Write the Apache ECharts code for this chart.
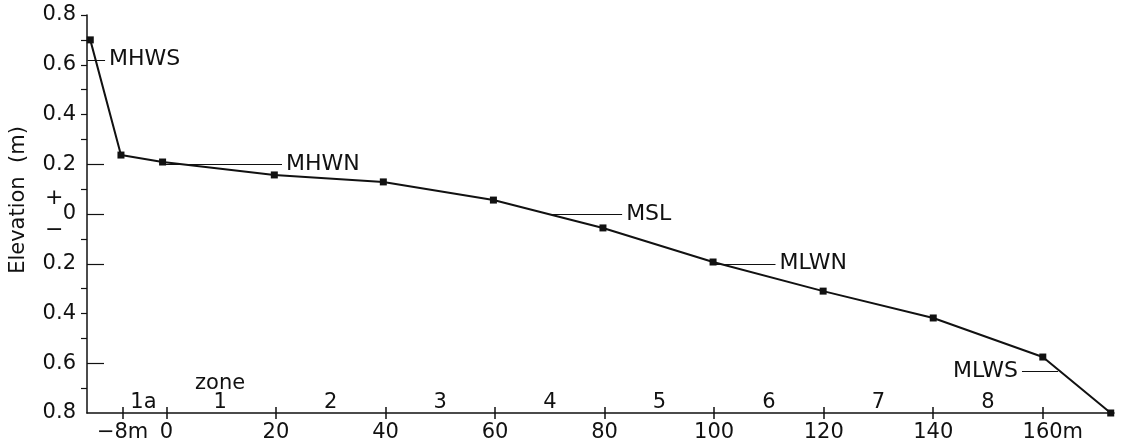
<!DOCTYPE html>
<html>
<head>
<meta charset="utf-8">
<script src="https://cdn.jsdelivr.net/npm/echarts@6/dist/echarts.min.js"></script>
<style>
  html, body { margin: 0; padding: 0; background: #fff; }
  #chart { width: 1126px; height: 448px; }
</style>
</head>
<body>
<div id="chart"></div>
<script>
// profile points (distance m, elevation m)
const distance = [-13.9, -8.3, -0.7, 19.7, 39.6, 59.7, 79.7, 99.8, 119.9, 140, 160, 172.4];
const elevation = [0.70, 0.237, 0.209, 0.157, 0.129, 0.056, -0.056, -0.193, -0.31, -0.418, -0.575, -0.80];

// x tick labels
const xTickValues = [-8, 0, 20, 40, 60, 80, 100, 120, 140, 160];
const xTickLabels = ['\u22128m', '0', '20', '40', '60', '80', '100', '120', '140', '160m'];

// y ticks
const yLabelValues = [0.8, 0.6, 0.4, 0.2, 0, -0.2, -0.4, -0.6, -0.8];
const yShortTicks = [0.8, 0.7, 0.6, 0.5, 0.4, 0.3, 0.1, -0.1, -0.3, -0.4, -0.5, -0.7];
const yLongTicks = [0.2, 0, -0.2, -0.6];

// zones
const zoneX = [-4.2, 9.8, 30, 50, 70, 90, 110, 130, 150];
const zoneNames = ['1a', '1', '2', '3', '4', '5', '6', '7', '8'];

// tide levels
const levelNames = ['MHWS', 'MHWN', 'MSL', 'MLWN', 'MLWS'];
const levelY = [0.62, 0.20, 0.0, -0.20, -0.631];
const levelX0 = [-14.4, -0.6, 70, 99.8, 156.2];
const levelX1 = [-11.2, 21.1, 83.2, 111.2, 162.8];

const font = '"DejaVu Sans", sans-serif';
const ink = '#111';

const chart = echarts.init(document.getElementById('chart'));

const levelLines = levelNames.map((n, i) => {
  const last = i === levelNames.length - 1;
  return [
    { coord: [levelX0[i], levelY[i]], name: n,
      label: { position: last ? 'start' : 'end' } },
    { coord: [levelX1[i], levelY[i]] }
  ];
});

const zoneData = zoneX.map((x, i) => ({ value: [x, -0.756], name: zoneNames[i] }));
zoneData.push({ value: [9.8, -0.683], name: 'zone' });

const option = {
  animation: false,
  backgroundColor: '#fff',
  textStyle: { fontFamily: font, color: ink },
  grid: { left: 87, top: 15, width: 1027, height: 398, containLabel: false },
  xAxis: [
    {
      type: 'value', min: -14.5, max: 173,
      splitLine: { show: false },
      axisLine: { onZero: false, lineStyle: { color: ink, width: 1.5 } },
      axisTick: { customValues: xTickValues, inside: false, length: 6, lineStyle: { color: ink, width: 1.5 } },
      axisLabel: {
        customValues: xTickValues, margin: 9, fontSize: 21, color: ink, fontFamily: font,
        formatter: v => {
          const i = xTickValues.indexOf(v);
          const t = i >= 0 ? xTickLabels[i] : '';
          return v === 160 ? '{r|' + t + '}' : t;
        },
        rich: { r: { fontSize: 21, fontFamily: font, color: ink, padding: [0, 0, 0, 20] } }
      }
    },
    {
      type: 'value', min: -14.5, max: 173, position: 'bottom',
      splitLine: { show: false },
      axisLine: { show: false, onZero: false },
      axisLabel: { show: false },
      axisTick: { customValues: xTickValues, inside: true, length: 6, lineStyle: { color: ink, width: 1.5 } }
    }
  ],
  yAxis: [
    {
      type: 'value', min: -0.8, max: 0.8,
      splitLine: { show: false },
      axisLine: { onZero: false, lineStyle: { color: ink, width: 1.5 } },
      axisTick: { customValues: yShortTicks, inside: false, length: 6, lineStyle: { color: ink, width: 1.2 } },
      axisLabel: {
        customValues: yLabelValues, margin: 11, fontSize: 21, color: ink, fontFamily: font,
        formatter: v => (Math.abs(v) < 1e-9 ? '0' : Math.abs(v).toFixed(1))
      },
      name: 'Elevation  (m)',
      nameLocation: 'middle',
      nameGap: 58,
      nameTextStyle: { fontSize: 21, color: ink, fontFamily: font, padding: [0, 0, 0, 28] }
    },
    {
      type: 'value', min: -0.8, max: 0.8, position: 'left',
      splitLine: { show: false },
      axisLine: { show: false, onZero: false },
      axisLabel: { show: false },
      axisTick: { customValues: yLongTicks, inside: true, length: 17, lineStyle: { color: ink, width: 1.2 } }
    }
  ],
  graphic: [
    { type: 'text', left: 45, top: 187, style: { text: '+', fontSize: 22, fill: ink, fontFamily: font } },
    { type: 'text', left: 45, top: 219, style: { text: '\u2212', fontSize: 22, fill: ink, fontFamily: font } }
  ],
  series: [
    {
      type: 'line',
      data: distance.map((d, i) => [d, elevation[i]]),
      symbol: 'rect',
      symbolSize: 7,
      showSymbol: true,
      lineStyle: { color: ink, width: 2 },
      itemStyle: { color: ink },
      clip: false,
      markLine: {
        silent: true,
        symbol: 'none',
        lineStyle: { color: ink, width: 1, type: 'solid' },
        label: { show: true, formatter: '{b}', fontSize: 22, color: ink, fontFamily: font, distance: 4 },
        data: levelLines
      }
    },
    {
      type: 'scatter',
      data: zoneData,
      symbolSize: 0,
      silent: true,
      itemStyle: { color: ink, opacity: 1 },
      label: {
        show: true, position: 'inside', formatter: '{b}',
        fontSize: 21, color: ink, fontFamily: font,
        textBorderWidth: 0
      }
    }
  ]
};

chart.setOption(option);
</script>
</body>
</html>
